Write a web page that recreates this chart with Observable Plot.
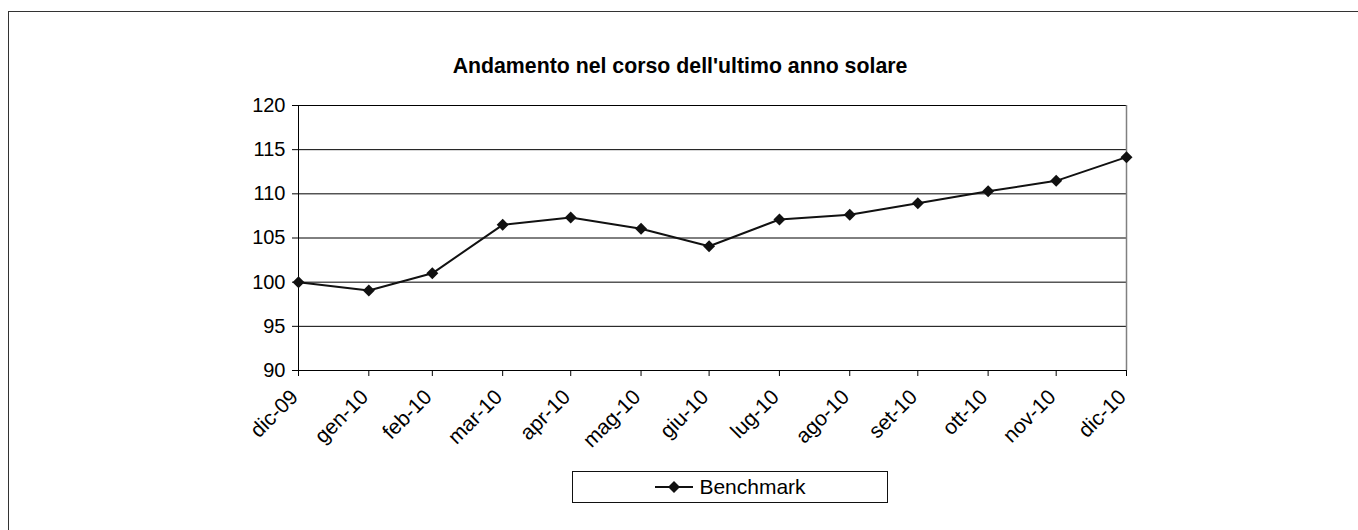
<!DOCTYPE html>
<html>
<head>
<meta charset="utf-8">
<script src="https://cdn.jsdelivr.net/npm/d3@7"></script>
<script src="https://cdn.jsdelivr.net/npm/@observablehq/plot@0.6"></script>
<style>
  html, body { margin: 0; padding: 0; background: #fff; }
  #chart {
    position: relative; width: 1358px; height: 530px; overflow: hidden;
    font-family: "Liberation Sans", Arial, sans-serif; color: #000;
  }
  #border {
    position: absolute; left: 8px; top: 11px; width: 1400px; height: 600px;
    border: 1.5px solid #333; box-sizing: border-box;
  }
  #title {
    position: absolute; left: 8px; width: 1344px; top: 54px;
    text-align: center; font-weight: bold; font-size: 21.3px;
  }
  #plot { position: absolute; left: 0; top: 90px; }
  #legend {
    position: absolute; left: 572px; top: 471px; width: 316px; height: 32px;
    border: 1.5px solid #111; box-sizing: border-box;
    display: flex; align-items: center; justify-content: center; font-size: 21px;
  }
  #legend svg { margin-right: 5px; }
</style>
</head>
<body>
<div id="chart">
  <div id="border"></div>
  <div id="title">Andamento nel corso dell'ultimo anno solare</div>
  <div id="plot"></div>
  <div id="legend"></div>
</div>
<script>
// Month-end observation dates and their labels
const dates = ["2009-12-31", "2010-01-31", "2010-02-28", "2010-03-31", "2010-04-30", "2010-05-31",
  "2010-06-30", "2010-07-31", "2010-08-31", "2010-09-30", "2010-10-31", "2010-11-30", "2010-12-31"];
const monthLabels = ["dic-09", "gen-10", "feb-10", "mar-10", "apr-10", "mag-10",
  "giu-10", "lug-10", "ago-10", "set-10", "ott-10", "nov-10", "dic-10"];
// Benchmark index values (base 100)
const benchmark = [100, 99.05, 101.0, 106.49, 107.32, 106.04, 104.07, 107.09, 107.62, 108.94, 110.3, 111.47, 114.15];
const yTicks = [90, 95, 100, 105, 110, 115, 120];
const seriesName = "Benchmark";

const parsed = dates.map(d => new Date(d + "T00:00:00Z"));
const data = parsed.map((d, i) => ({date: d, value: benchmark[i], label: monthLabels[i]}));
const labelFor = (d) => monthLabels[parsed.findIndex(p => +p === +d)];

const chart = Plot.plot({
  width: 1358,
  height: 365,
  marginLeft: 298,
  marginRight: 232,
  marginTop: 15,
  marginBottom: 85,
  style: {fontFamily: "'Liberation Sans', Arial, sans-serif", fontSize: "20px", color: "#000", background: "transparent"},
  x: {type: "utc", domain: [parsed[0], parsed[parsed.length - 1]]},
  y: {domain: [90, 120]},
  marks: [
    Plot.gridY(yTicks, {stroke: "#000", strokeOpacity: 1}),
    Plot.ruleX([parsed[parsed.length - 1]], {stroke: "#808080", strokeWidth: 1.5}),
    Plot.ruleX([parsed[0]], {stroke: "#000"}),
    Plot.ruleY([90], {stroke: "#000"}),
    Plot.axisY({ticks: yTicks, tickSize: 6, tickPadding: 7, label: null, fontSize: 20, stroke: "#000"}),
    // tick marks below the baseline
    Plot.axisX({ticks: parsed, tickSize: 6, label: null, tickFormat: () => "", stroke: "#000"}),
    // rotated month labels
    Plot.axisX({
      ticks: parsed, tickSize: 0, tickPadding: 23, label: null, fontSize: 21,
      tickRotate: -45, dx: -4, tickFormat: labelFor
    }),
    Plot.line(data, {x: "date", y: "value", stroke: "#111", strokeWidth: 2}),
    Plot.dot(data, {x: "date", y: "value", symbol: "diamond2", r: 5.4, fill: "#111", stroke: "none"})
  ]
});
document.getElementById("plot").appendChild(chart);

// Legend swatch: line with a diamond marker, then the series name
const legend = document.getElementById("legend");
legend.innerHTML =
  `<svg width="40" height="16"><line x1="1" x2="39" y1="8" y2="8" stroke="#111" stroke-width="2"/>` +
  `<path d="M20,2 L26,8 L20,14 L14,8 Z" fill="#111"/></svg><span>${seriesName}</span>`;
</script>
</body>
</html>
